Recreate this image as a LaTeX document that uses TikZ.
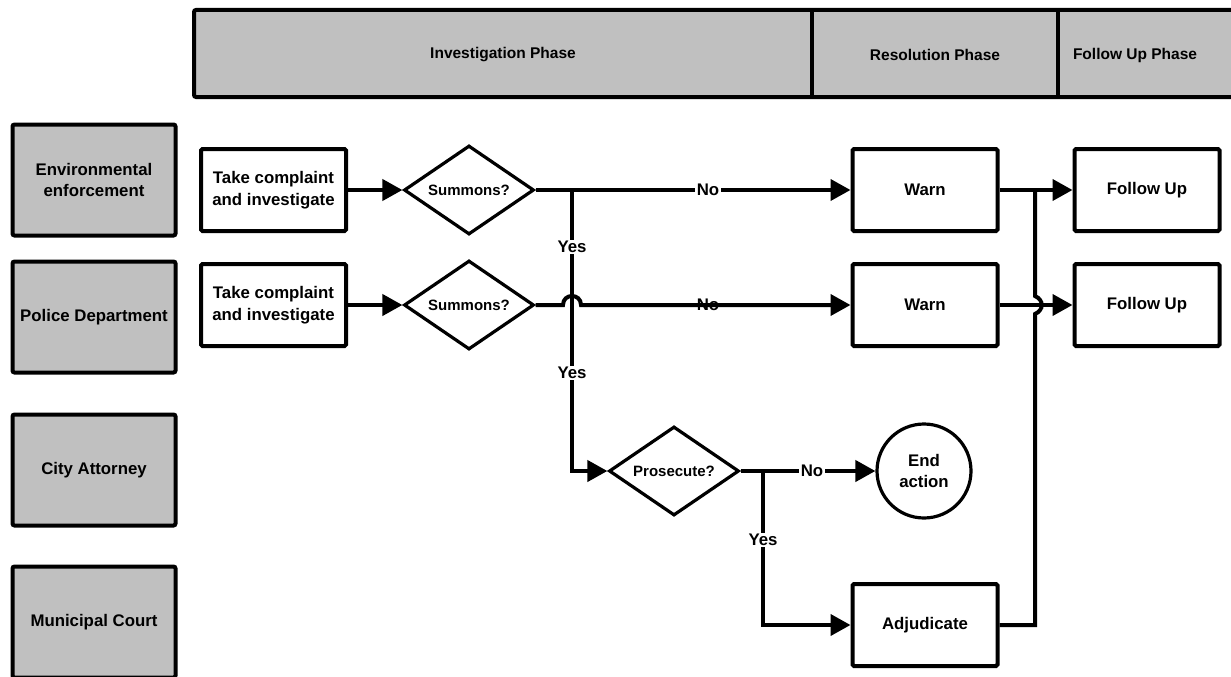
\documentclass[tikz,border=0pt]{standalone}
\usepackage{fontspec}
\setmainfont{Liberation Sans}
\usetikzlibrary{shapes.geometric,arrows.meta}
\definecolor{laneGray}{HTML}{C0C0C0}
\begin{document}
\begin{tikzpicture}[x=1pt,y=-1pt,
  txt/.style={font=\bfseries\fontsize{16.8}{21.5}\selectfont, text=black, align=center},
  lane/.style={txt, draw, line width=4pt, fill=laneGray, rounded corners=2pt, minimum width=163pt, minimum height=111pt, inner sep=0pt},
  task/.style={txt, draw, line width=4pt, fill=white, rounded corners=1.5pt, minimum width=145pt, minimum height=82pt, inner sep=0pt},
  decide/.style={txt, font=\bfseries\fontsize{15}{18}\selectfont, draw, diamond, line width=3.2pt, fill=white, minimum width=130pt, minimum height=89pt, inner sep=0pt, aspect=1.46},
  terminal/.style={txt, draw, circle, line width=3.2pt, fill=white, minimum size=94pt, inner sep=0pt},
  flow/.style={line width=4pt, line join=miter},
  arr/.style={flow, -{Triangle[length=20pt,width=21pt]}},
  lbl/.style={txt, fill=white, inner sep=1.5pt},
  phase/.style={txt, font=\bfseries\fontsize{15.5}{18}\selectfont},
]
\useasboundingbox (0,0) rectangle (1231,677);
\clip (0,0) rectangle (1231,677);

% header
\draw[line width=4pt, fill=laneGray, rounded corners=2pt] (194,10) rectangle (1250,97);
\draw[line width=4pt] (812,10) -- (812,97);
\draw[line width=4pt] (1058,10) -- (1058,97);
\node[phase] (ph1) at (503,55) {Investigation Phase};
\node[phase] (ph2) at (935,55) {Resolution Phase};
\node[phase] (ph3) at (1135,55) {Follow Up Phase};

% lanes
\node[lane] (env) at (94,180) {Environmental\\enforcement};
\node[lane] (pol) at (94,317) {Police Department};
\node[lane] (att) at (94,470) {City Attorney};
\node[lane] (crt) at (94,622) {Municipal Court};

% row 1
\node[task] (tc1) at (273.5,190) {Take complaint\\and investigate};
\node[decide] (s1) at (469,190) {Summons?};
\node[task] (w1) at (925,190) {Warn};
\node[task] (fu1) at (1147,190) {Follow Up};

% row 2
\node[task] (tc2) at (273.5,305) {Take complaint\\and investigate};
\node[decide] (s2) at (469,305) {Summons?};
\node[task] (w2) at (925,305) {Warn};
\node[task] (fu2) at (1147,305) {Follow Up};

% lower
\node[decide] (p) at (674,471) {Prosecute?};
\node[terminal] (end) at (924,471) {End\\action};
\node[task] (adj) at (925,625) {Adjudicate};

% junctions
\coordinate (y1) at (572,190);
\coordinate (h1a) at (563,305);
\coordinate (h1b) at (581,305);
\coordinate (y2) at (763,471);
\coordinate (j1) at (1035,190);
\coordinate (h2a) at (1035,296);
\coordinate (h2b) at (1035,314);

% row 2 "No" (line passes over it)
\node[txt] (no2) at (708,305) {No};

% connectors
\draw[arr] (tc1.east) -- (s1.west);
\draw[arr] (tc2.east) -- (s2.west);
\draw[arr] (s1.east) -- (w1.west);
\draw[arr] (s2.east) -- (h1a) .. controls +(0,-12) and +(0,-12) .. (h1b) -- (w2.west);
\draw[arr] (w1.east) -- (fu1.west);
\draw[arr] (w2.east) -- (fu2.west);
\draw[arr] (y1) -- (y1 |- p.west) -- (p.west);
\draw[arr] (p.east) -- (end.west);
\draw[arr] (y2) -- (y2 |- adj.west) -- (adj.west);
\draw[flow] (adj.east) -- (adj.east -| j1) -- (h2b) .. controls +(9,-4) and +(9,4) .. (h2a) -- (j1);

% labels
\node[lbl] (no1) at (708,190) {No};
\node[lbl] (yes1) at (572,247) {Yes};
\node[lbl] (yes2) at (572,373) {Yes};
\node[lbl] (no3) at (812,471) {No};
\node[lbl] (yes3) at (763,540) {Yes};
\end{tikzpicture}
\end{document}
